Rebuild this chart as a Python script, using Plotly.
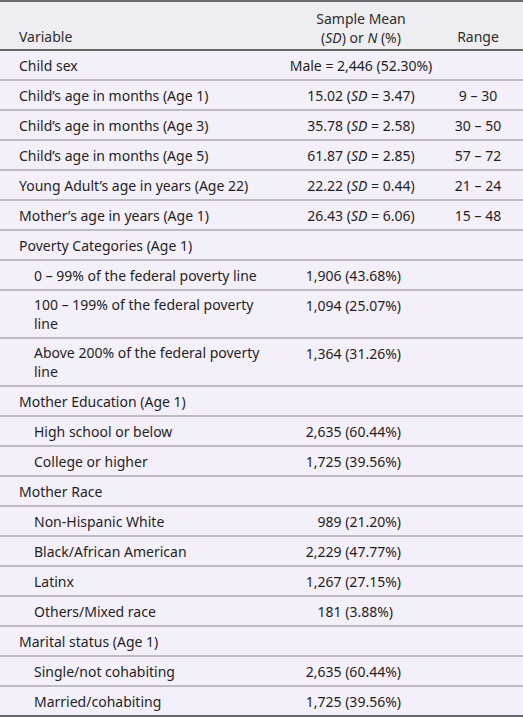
import plotly.graph_objects as go

# ── table content ──
variables = [
    "Child sex",
    "Child’s age in months (Age 1)",
    "Child’s age in months (Age 3)",
    "Child’s age in months (Age 5)",
    "Young Adult’s age in years (Age 22)",
    "Mother’s age in years (Age 1)",
    "Poverty Categories (Age 1)",
    "0 – 99% of the federal poverty line",
    "100 – 199% of the federal poverty<br>line",
    "Above 200% of the federal poverty<br>line",
    "Mother Education (Age 1)",
    "High school or below",
    "College or higher",
    "Mother Race",
    "Non-Hispanic White",
    "Black/African American",
    "Latinx",
    "Others/Mixed race",
    "Marital status (Age 1)",
    "Single/not cohabiting",
    "Married/cohabiting",
]
sub_row = [0, 0, 0, 0, 0, 0, 0, 1, 1, 1, 0, 1, 1, 0, 1, 1, 1, 1, 0, 1, 1]
means = [
    "Male = 2,446 (52.30%)",
    "15.02 (<i>SD</i> = 3.47)",
    "35.78 (<i>SD</i> = 2.58)",
    "61.87 (<i>SD</i> = 2.85)",
    "22.22 (<i>SD</i> = 0.44)",
    "26.43 (<i>SD</i> = 6.06)",
    "",
    "1,906 (43.68%)",
    "1,094 (25.07%)",
    "1,364 (31.26%)",
    "",
    "2,635 (60.44%)",
    "1,725 (39.56%)",
    "",
    "989 (21.20%)",
    "2,229 (47.77%)",
    "1,267 (27.15%)",
    "181 (3.88%)\u2007",
    "",
    "2,635 (60.44%)",
    "1,725 (39.56%)",
]
ranges = ["", "9 – 30", "30 – 50", "57 – 72", "21 – 24", "15 – 48",
          "", "", "", "", "", "", "", "", "", "", "", "", "", "", ""]

headers = ["Variable", "Sample Mean<br>(<i>SD</i>) or <i>N</i> (%)", "Range"]

# ── geometry (pixel units on the axes) ──
W, H = 523, 719
TOP = 1
HEADER_H = 49
ROW_H = 30
EXTRA_LINE_H = 18
DY = 2                       # nudge so the glyphs sit in the middle of the row
X_VAR, X_SUB = 19, 34
X_MEAN_C, X_COUNT_R, X_RANGE_C = 361, 401, 478

FONT = "Noto Sans"
FS = 14
TEXT_COL = "#1f1f1f"
HEAD_COL = "#2e2e2e"
HEADER_BG = "#eeedf1"
BODY_BG = "#f4f0fa"

row_tops, row_bottoms = [], []
y = TOP + HEADER_H
for v in variables:
    h = ROW_H + v.count("<br>") * EXTRA_LINE_H
    row_tops.append(y)
    row_bottoms.append(y + h)
    y += h
table_bottom = y

fig = go.Figure()

# backgrounds
fig.add_shape(type="rect", xref="x", yref="y", x0=0, x1=W, y0=TOP, y1=TOP + HEADER_H,
              fillcolor=HEADER_BG, line_width=0, layer="below")
fig.add_shape(type="rect", xref="x", yref="y", x0=0, x1=W, y0=TOP + HEADER_H, y1=table_bottom,
              fillcolor=BODY_BG, line_width=0, layer="below")

# rules
for yy in [TOP, TOP + HEADER_H, table_bottom]:
    fig.add_shape(type="line", xref="x", yref="y", x0=0, x1=W, y0=yy, y1=yy,
                  line=dict(color="#3a3a3a", width=1.6))
for yy in row_bottoms[:-1]:
    fig.add_shape(type="line", xref="x", yref="y", x0=0, x1=W, y0=yy, y1=yy,
                  line=dict(color="#878787", width=1))

font = dict(family=FONT, size=FS, color=TEXT_COL)
hfont = dict(family=FONT, size=FS, color=HEAD_COL)

# header
fig.add_trace(go.Scatter(
    x=[X_VAR], y=[TOP + 35 + DY], text=[headers[0]], mode="text",
    textposition="middle right", textfont=hfont, hoverinfo="skip"))
fig.add_trace(go.Scatter(
    x=[X_MEAN_C, X_RANGE_C], y=[TOP + 27 + DY, TOP + 35 + DY], text=headers[1:], mode="text",
    textposition="middle center", textfont=hfont, hoverinfo="skip"))

# variable column
fig.add_trace(go.Scatter(
    x=[X_SUB if s else X_VAR for s in sub_row],
    y=[(t + b) / 2 + DY for t, b in zip(row_tops, row_bottoms)],
    text=variables, mode="text", textposition="middle right",
    textfont=font, hoverinfo="skip"))

# mean / N column: means centred, counts right-aligned
c_idx = [i for i, m in enumerate(means) if m and ("SD" in m or "=" in m)]
r_idx = [i for i, m in enumerate(means) if m and i not in c_idx]
fig.add_trace(go.Scatter(
    x=[X_MEAN_C] * len(c_idx),
    y=[row_tops[i] + 15 + DY for i in c_idx],
    text=[means[i] for i in c_idx], mode="text", textposition="middle center",
    textfont=font, hoverinfo="skip"))
fig.add_trace(go.Scatter(
    x=[X_COUNT_R] * len(r_idx),
    y=[row_tops[i] + 15 + DY for i in r_idx],
    text=[means[i] for i in r_idx], mode="text", textposition="middle left",
    textfont=font, hoverinfo="skip"))

# range column
rg_idx = [i for i, r in enumerate(ranges) if r]
fig.add_trace(go.Scatter(
    x=[X_RANGE_C] * len(rg_idx),
    y=[row_tops[i] + 15 + DY for i in rg_idx],
    text=[ranges[i] for i in rg_idx], mode="text", textposition="middle center",
    textfont=font, hoverinfo="skip"))

fig.update_layout(
    width=W, height=H,
    margin=dict(l=0, r=0, t=0, b=0),
    showlegend=False,
    paper_bgcolor="#ffffff",
    plot_bgcolor="#ffffff",
    xaxis=dict(range=[0, W], visible=False, fixedrange=True),
    yaxis=dict(range=[H, 0], visible=False, fixedrange=True),
)

# the page's default 8px body margin would push the table off the window
fig.write_html("out.html", config={"displayModeBar": False},
               post_script="document.body.style.margin='0px';")
